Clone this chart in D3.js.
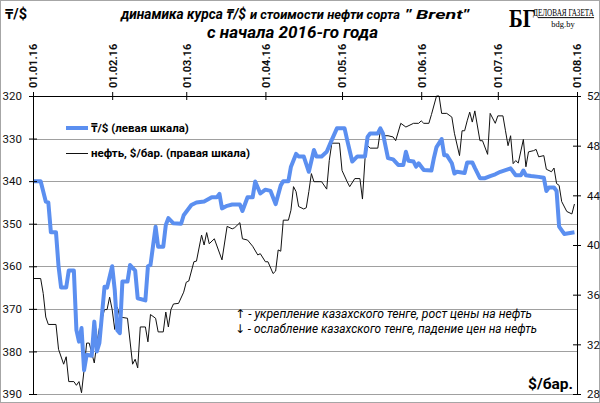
<!DOCTYPE html>
<html>
<head>
<meta charset="utf-8">
<script src="https://cdn.jsdelivr.net/npm/d3@7"></script>
<style>
  html, body { margin: 0; padding: 0; background: #fff; }
  svg { display: block; font-family: Roboto, "Noto Sans", "DejaVu Sans", sans-serif; }
</style>
</head>
<body>
<svg id="chart" width="600" height="403"></svg>
<script>
// Tenge per dollar (left scale)
const kztDates = [
  "01-01","01-04","01-06","01-07","01-08","01-10","01-11","01-12","01-14","01-15","01-17","01-18","01-19","01-20","01-21","01-22","01-24","01-25","01-26","01-27","01-29","01-30",
  "02-01","02-02","02-03","02-04","02-05","02-07","02-08","02-10","02-11","02-14","02-15","02-16","02-18","02-19","02-21","02-22","02-23","02-25","02-28","02-29",
  "03-03","03-05","03-08","03-11","03-13","03-14","03-15","03-17","03-19","03-22","03-23","03-25","03-27","03-28","03-30",
  "04-01","04-03","04-05","04-07","04-08","04-10","04-11","04-13","04-14","04-16","04-18","04-20","04-21","04-23","04-25","04-27","04-29",
  "05-02","05-03","05-05","05-07","05-10","05-11","05-12","05-15","05-16","05-17","05-19","05-21","05-23","05-25","05-26","05-27","05-29","05-30","05-31",
  "06-02","06-05","06-06","06-07","06-09","06-10","06-11","06-13","06-14","06-15","06-18","06-19","06-21","06-22","06-24","06-26","06-28","06-30",
  "07-02","07-04","07-06","07-07","07-08","07-10","07-11","07-12","07-14","07-17","07-19","07-20","07-21","07-23","07-24","07-25","07-27","07-31"
];
const kztValues = [
  340,340,344.8,345,352,352,360,365,365,361,361,375,377.7,374.5,384.4,380.8,381,373,380,378,364.8,365,
  360,365.5,375,375.7,363.6,363.6,359.7,361,367.5,368,360,359.7,350.7,355.4,355.4,350.3,348.7,349.9,350,348,
  345.6,345,344.8,343.8,343.8,343,346.4,345.8,345.5,345.5,347,343.8,343.8,340.1,342.9,
  342,342.3,345.4,341,340,340,336.6,333.6,334.2,334.2,337.8,332.7,334.2,334.2,333.1,330.3,327.6,
  327.6,330.3,335.4,334.2,334.2,329.6,328.8,328.8,327.6,328.8,334.6,334.9,336.2,336.2,333.1,335.2,335.4,336.6,335.8,
  337.4,337.5,334.5,332,330.1,333.9,333.9,335.8,338.2,337.8,338.1,335.6,335.6,336.9,339.3,339.3,338.8,338.4,
  337.8,337.4,337,337.8,338.6,338.6,337.5,338.6,338.8,339,339.2,342.3,341.5,341.5,342.3,350.7,352.4,352
];

// Brent, $ per barrel (right scale)
const oilDates = [
  "01-01","01-04","01-05","01-06","01-07","01-10","01-11","01-13","01-14","01-15","01-17","01-18","01-19","01-20","01-21","01-22","01-23","01-25","01-26","01-27","01-29","01-30","01-31",
  "02-01","02-02","02-03","02-04","02-07","02-09","02-10","02-11","02-12","02-14","02-15","02-16","02-18","02-19","02-21","02-22","02-23","02-24","02-25","02-27","02-29",
  "03-01","03-02","03-04","03-05","03-07","03-08","03-09","03-10","03-12","03-15","03-17","03-19","03-20","03-22","03-23","03-25","03-27","03-29","03-30",
  "04-01","04-02","04-04","04-05","04-06","04-07","04-08","04-10","04-11","04-12","04-13","04-14","04-16","04-17","04-18","04-19","04-20","04-22","04-23","04-25","04-26","04-27","04-30",
  "05-01","05-03","05-04","05-06","05-08","05-09","05-10","05-11","05-12","05-15","05-16","05-17","05-19","05-21","05-22","05-24","05-26","05-29","05-31",
  "06-01","06-02","06-04","06-05","06-07","06-08","06-09","06-11","06-13","06-14","06-16","06-17","06-18","06-19","06-20","06-21","06-22","06-24","06-25","06-27","06-28","06-30",
  "07-01","07-03","07-04","07-05","07-06","07-07","07-08","07-09","07-11","07-12","07-13","07-15","07-16","07-17","07-19","07-20","07-22","07-23","07-24","07-25","07-26","07-28","07-30","07-31"
];
const oilValues = [
  37.3,37.3,36.1,34.2,33.6,33.6,31.6,30.4,31,29,29,28.7,29,28.1,29.95,32.1,32.1,30.5,32.1,33.3,34.8,34.8,35.8,
  34.8,33.2,35,34.2,34.1,30.4,30.8,30.1,33.4,33.4,32.2,34.4,34.1,33,33,34.6,33.4,34.8,35.25,35.3,36.2,
  37,37.1,38.65,38.7,40.8,40,41,40.1,40.5,38.8,41.5,41.3,41.4,41.8,40.5,40.4,39.9,39.2,39.3,
  38.65,38.65,37.7,37.9,39.6,39.5,42,42,42.8,44.7,44.3,43.1,42.9,43,44.3,45.75,45.1,45.1,45.1,44.5,46.8,48.2,48.2,
  46,45.1,44.7,45.35,45.35,43.7,46.95,48,47.8,47.8,49.2,48.8,48.8,48.7,48.4,49.8,49.5,49.8,49.8,
  50,49.8,49.8,50.5,52,52,50.6,50.6,50.3,49,47.2,49.2,49.2,50,50.7,49.9,50.8,48.4,48.4,47.3,50.6,49.8,
  50.4,50.4,49.2,48,48.8,46.55,46.8,46.6,48.5,46.3,47.5,47.6,47.7,47.1,47.2,46.1,45.9,46.2,44.95,44.8,43.5,42.7,42.5,43.3
];

const leftTicks = [320, 330, 340, 350, 360, 370, 380, 390];
const rightTicks = [52, 48, 44, 40, 36, 32, 28];
const monthTicks = ["01-01","02-01","03-01","04-01","05-01","06-01","07-01","08-01"];

const parse = d3.timeParse("%Y-%m-%d");
const toDate = s => parse("2016-" + s);

const kzt = d3.zip(kztDates, kztValues).map(([d, v]) => ({ date: toDate(d), value: v }));
const oil = d3.zip(oilDates, oilValues).map(([d, v]) => ({ date: toDate(d), value: v }));

const plotLeft = 33, plotRight = 577, plotTop = 96, plotBottom = 394;

const svg = d3.select("#chart");

const x = d3.scaleTime()
  .domain([toDate("01-01"), toDate("08-01")])
  .range([plotLeft, plotRight]);
const yL = d3.scaleLinear().domain([320, 390]).range([plotTop, plotBottom]);
const yR = d3.scaleLinear().domain([52, 28]).range([plotTop, plotBottom]);

// outer frame
svg.append("rect")
  .attr("x", 0.5).attr("y", 0.5).attr("width", 599).attr("height", 402)
  .attr("fill", "#fff").attr("stroke", "#a6a6a6");

// gridlines for the left scale
svg.append("g")
  .selectAll("line")
  .data(leftTicks.slice(1))
  .join("line")
  .attr("x1", plotLeft).attr("x2", plotRight)
  .attr("y1", d => Math.round(yL(d)) + 0.5)
  .attr("y2", d => Math.round(yL(d)) + 0.5)
  .attr("stroke", "#a0a0a0")
  .attr("stroke-width", 1.2);

// oil first so the tenge line sits on top
const oilLine = d3.line().x(d => x(d.date)).y(d => yR(d.value));
svg.append("path")
  .datum(oil)
  .attr("d", oilLine)
  .attr("fill", "none")
  .attr("stroke", "#111")
  .attr("stroke-width", 1);

const kztLine = d3.line().x(d => x(d.date)).y(d => yL(d.value));
svg.append("path")
  .datum(kzt)
  .attr("d", kztLine)
  .attr("fill", "none")
  .attr("stroke", "#5b8ff0")
  .attr("stroke-width", 4)
  .attr("stroke-linejoin", "round");

// axes
function styleAxis(g) {
  g.select(".domain").attr("stroke", "#000");
  g.selectAll(".tick line").attr("stroke", "#000");
  g.selectAll(".tick text").attr("fill", "#111").attr("font-size", 11.5);
}

const axisL = svg.append("g")
  .attr("transform", `translate(${plotLeft},0)`)
  .call(d3.axisLeft(yL).tickValues(leftTicks).tickSizeOuter(0).tickSize(4).tickPadding(7))
  .call(styleAxis)
  .attr("font-family", null);
axisL.selectAll(".tick line").attr("x1", 4);

const axisR = svg.append("g")
  .attr("transform", `translate(${plotRight},0)`)
  .call(d3.axisRight(yR).tickValues(rightTicks).tickSizeOuter(0).tickSize(4).tickPadding(6))
  .call(styleAxis)
  .attr("font-family", null);
axisR.selectAll(".tick line").attr("x1", -4);

const axisT = svg.append("g")
  .attr("transform", `translate(0,${plotTop})`)
  .call(d3.axisTop(x)
    .tickValues(monthTicks.map(toDate))
    .tickFormat(d3.timeFormat("%d.%m.%y"))
    .tickSizeOuter(0).tickSize(4))
  .call(styleAxis)
  .attr("font-family", null);
axisT.selectAll(".tick line").attr("y1", 4);
axisT.selectAll(".tick text")
  .attr("transform", "rotate(-90)")
  .attr("text-anchor", "start")
  .attr("x", 8).attr("y", 0).attr("dy", "0.35em")
  .attr("font-weight", "bold")
  .attr("font-size", 11);

// titles and labels
svg.append("text")
  .attr("x", 5).attr("y", 19)
  .attr("font-size", 14.5).attr("font-weight", "bold")
  .text("₸/$");

const title = svg.append("g").attr("font-style", "italic").attr("font-weight", "bold");
title.append("text")
  .attr("x", 121).attr("y", 18.5).attr("font-size", 14.5)
  .attr("textLength", 125).attr("lengthAdjust", "spacingAndGlyphs")
  .text("динамика  курса ₸/$");
title.append("text")
  .attr("x", 250).attr("y", 18.5).attr("font-size", 12)
  .attr("textLength", 150).attr("lengthAdjust", "spacingAndGlyphs")
  .text("и стоимости нефти сорта");
title.append("text")
  .attr("x", 405).attr("y", 18.5).attr("font-size", 12.5)
  .attr("textLength", 64).attr("lengthAdjust", "spacingAndGlyphs")
  .text("\" Brent\"");
title.append("text")
  .attr("x", 207).attr("y", 38).attr("font-size", 17)
  .attr("textLength", 171).attr("lengthAdjust", "spacingAndGlyphs")
  .text("с начала 2016-го года");

svg.append("text")
  .attr("x", 573).attr("y", 389)
  .attr("text-anchor", "end")
  .attr("font-size", 15.5).attr("font-weight", "bold")
  .text("$/бар.");

// legend
const legend = svg.append("g").attr("font-size", 11.5).attr("font-weight", "bold");
legend.append("line")
  .attr("x1", 66).attr("x2", 88).attr("y1", 128).attr("y2", 128)
  .attr("stroke", "#5b8ff0").attr("stroke-width", 4);
legend.append("text").attr("x", 91).attr("y", 132).text("₸/$ (левая шкала)");
legend.append("line")
  .attr("x1", 66).attr("x2", 88).attr("y1", 153.5).attr("y2", 153.5)
  .attr("stroke", "#111").attr("stroke-width", 1);
legend.append("text").attr("x", 91).attr("y", 157).text("нефть, $/бар. (правая шкала)");

// note about arrows
const note = svg.append("g").attr("font-size", 12).attr("font-style", "italic");
const n1 = note.append("text").attr("x", 235).attr("y", 318)
  .attr("textLength", 297).attr("lengthAdjust", "spacingAndGlyphs");
n1.append("tspan").attr("font-style", "normal").text("↑");
n1.append("tspan").text(" - укрепление  казахского  тенге, рост цены на нефть");
const n2 = note.append("text").attr("x", 235).attr("y", 333)
  .attr("textLength", 302).attr("lengthAdjust", "spacingAndGlyphs");
n2.append("tspan").attr("font-style", "normal").text("↓");
n2.append("tspan").text(" - ослабление  казахского  тенге, падение цен на нефть");

// publisher mark
const logo = svg.append("g").attr("font-family", "'Liberation Serif', 'DejaVu Serif', serif");
logo.append("text")
  .attr("x", 509).attr("y", 27)
  .attr("font-size", 26).attr("font-weight", "bold")
  .attr("transform", "translate(509,0) scale(0.8,1) translate(-509,0)")
  .text("БГ");
logo.append("text")
  .attr("transform", "translate(533,16) scale(1,1.35)")
  .attr("font-size", 7.2)
  .attr("text-decoration", "underline")
  .text("ДЕЛОВАЯ ГАЗЕТА");
logo.append("text")
  .attr("x", 563).attr("y", 27)
  .attr("text-anchor", "middle")
  .attr("font-size", 8.5)
  .text("bdg.by");
</script>
</body>
</html>
